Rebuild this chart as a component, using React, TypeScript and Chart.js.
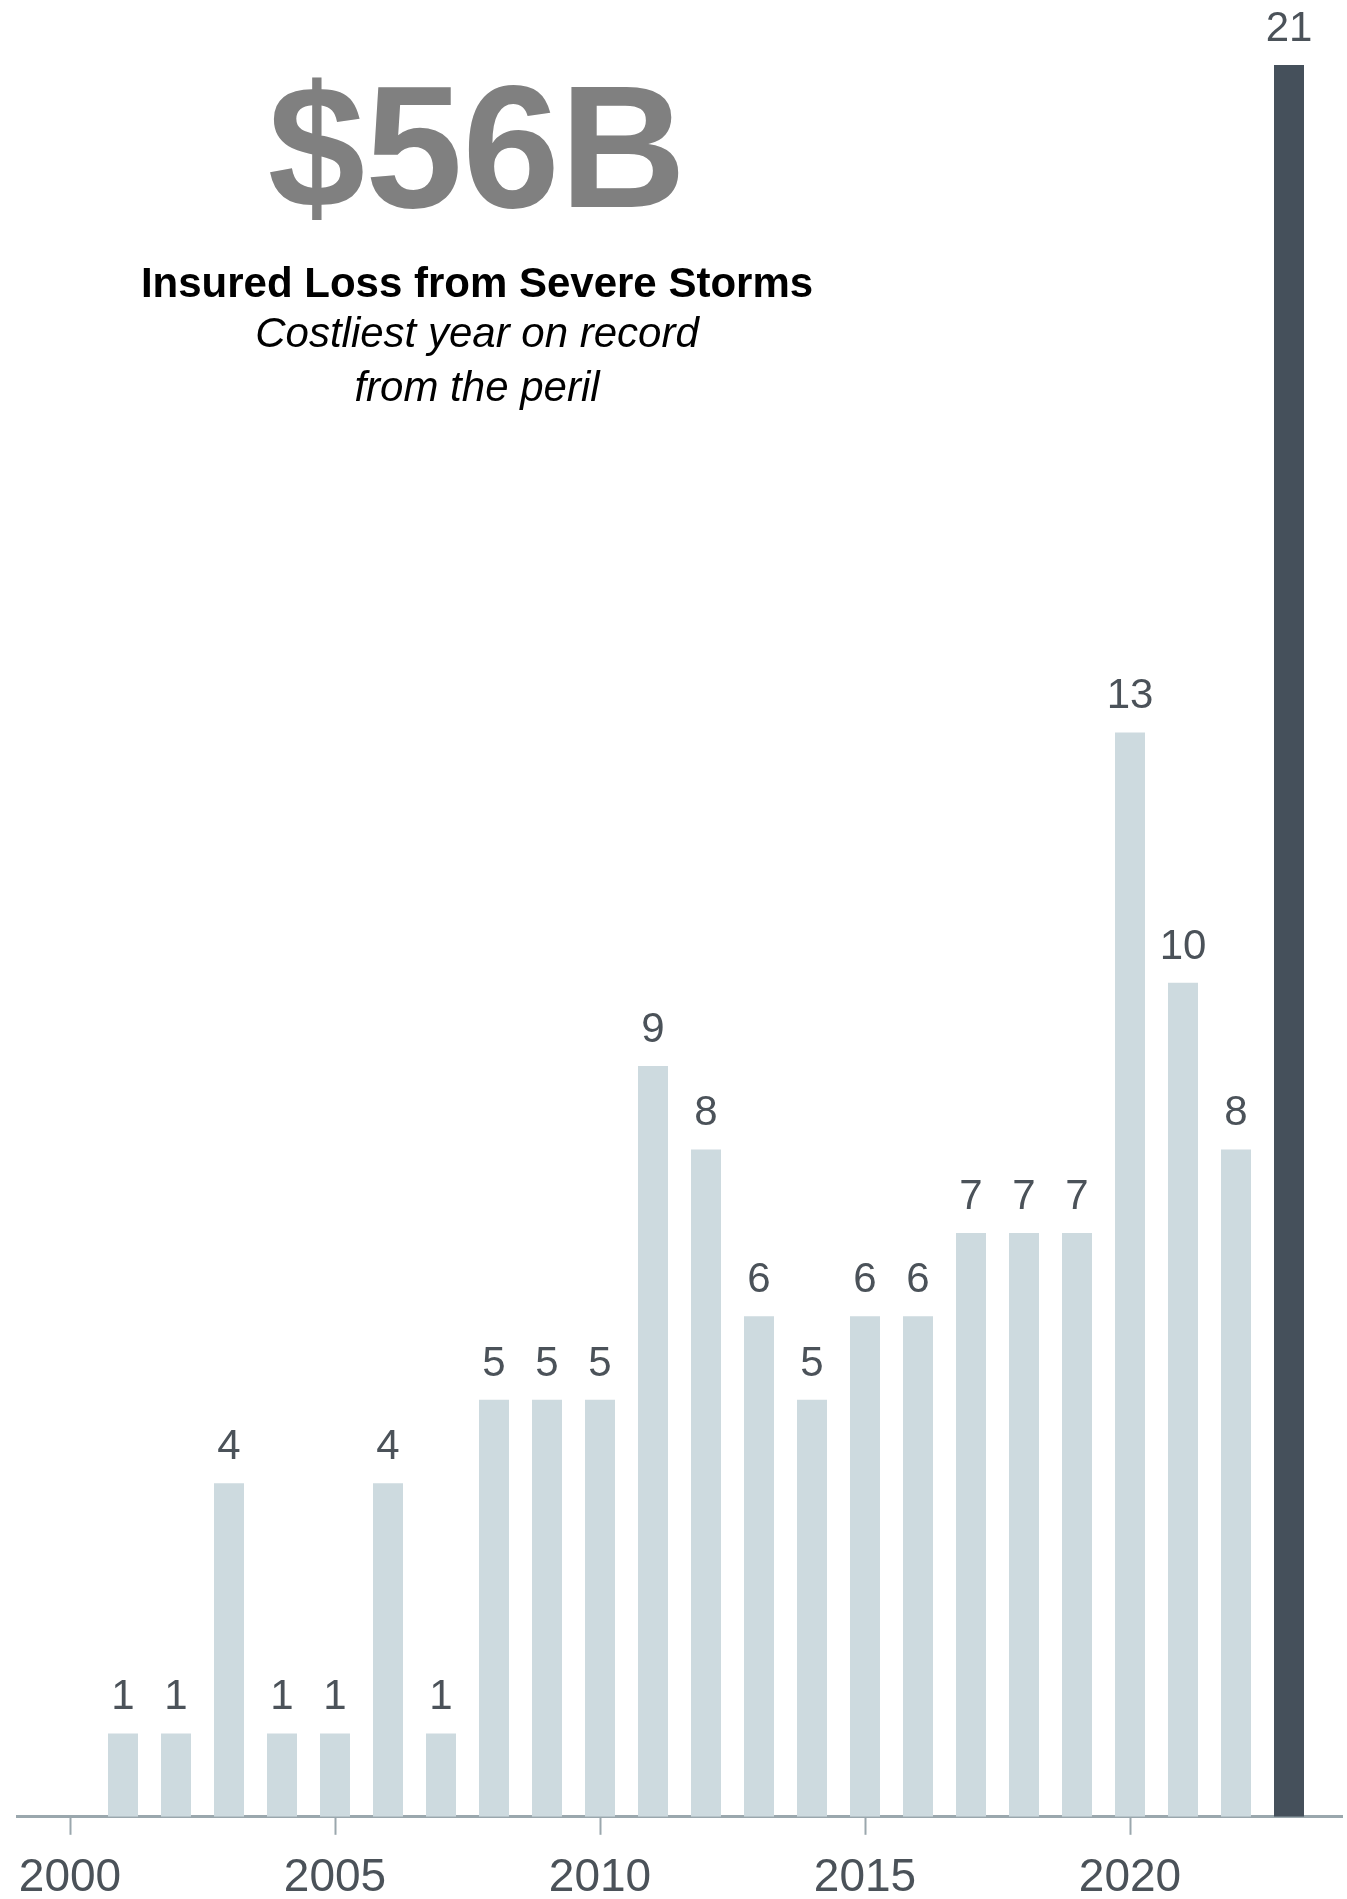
import React, { useEffect, useRef } from "react";
import { Chart, registerables } from "chart.js";

Chart.register(...registerables);

const YEARS = [2001, 2002, 2003, 2004, 2005, 2006, 2007, 2008, 2009, 2010, 2011, 2012, 2013, 2014, 2015, 2016, 2017, 2018, 2019, 2020, 2021, 2022, 2023];
const VALUES = [1, 1, 4, 1, 1, 4, 1, 5, 5, 5, 9, 8, 6, 5, 6, 6, 7, 7, 7, 13, 10, 8, 21];
const HIGHLIGHT_YEAR = 2023;
const TICK_YEARS = [2000, 2005, 2010, 2015, 2020];

const HEADLINE = "$56B";
const TITLE = "Insured Loss from Severe Storms";
const SUBTITLE_LINES = ["Costliest year on record", "from the peril"];

const FONT = "'Liberation Sans', Arial, Helvetica, sans-serif";
const LIGHT = "#cddadf";
const DARK = "#45505b";
const AXIS = "#9aa7ad";
const LABEL = "#4b5259";

const CANVAS_H = 1922;

const valueLabels = {
  id: "valueLabels",
  afterDatasetsDraw(chart: any) {
    const ctx = chart.ctx;
    const meta = chart.getDatasetMeta(0);
    ctx.save();
    ctx.font = `42px ${FONT}`;
    ctx.fillStyle = LABEL;
    ctx.textAlign = "center";
    ctx.textBaseline = "alphabetic";
    meta.data.forEach((el: any, i: number) => {
      ctx.fillText(String(VALUES[i]), el.x, el.y - 24);
    });
    ctx.restore();
  },
};

export default function App() {
  const ref = useRef<HTMLCanvasElement | null>(null);

  useEffect(() => {
    if (!ref.current) return;
    const chart = new Chart(ref.current, {
      type: "bar",
      data: {
        datasets: [
          {
            data: YEARS.map((y, i) => ({ x: y, y: VALUES[i] })),
            backgroundColor: YEARS.map((y) => (y === HIGHLIGHT_YEAR ? DARK : LIGHT)),
            borderWidth: 0,
            categoryPercentage: 0.566,
            barPercentage: 1,
          } as any,
        ],
      },
      plugins: [valueLabels],
      options: {
        animation: false,
        responsive: false,
        maintainAspectRatio: false,
        layout: { padding: { left: 17, right: 5, top: 0, bottom: 0 } },
        plugins: { legend: { display: false }, tooltip: { enabled: false }, title: { display: false } },
        scales: {
          x: {
            type: "linear",
            min: 1999,
            max: 2024,
            offset: false,
            afterBuildTicks: (scale: any) => {
              scale.ticks = TICK_YEARS.map((v) => ({ value: v }));
            },
            grid: {
              display: true,
              offset: false,
              drawOnChartArea: false,
              drawTicks: true,
              tickLength: 18,
              tickWidth: 2,
              tickColor: AXIS,
            },
            border: { display: true, color: AXIS, width: 3 },
            ticks: {
              color: LABEL,
              font: { family: FONT, size: 46 },
              padding: 16,
              maxRotation: 0,
              autoSkip: false,
              callback: (v: any) => String(v),
            },
          } as any,
          y: {
            display: false,
            min: 0,
            max: 21.78,
          },
        },
      },
    });
    return () => chart.destroy();
  }, []);

  return (
    <div style={{ position: "absolute", left: 0, top: 0, width: 1347, height: 1899, overflow: "hidden", background: "#fff" }}>
      <canvas ref={ref} width={1347} height={CANVAS_H} style={{ position: "absolute", left: 0, top: 0, width: 1347, height: CANVAS_H }} />
      <div style={{ position: "absolute", left: 0, width: 954, textAlign: "center", top: 59, fontFamily: FONT, fontWeight: 700, fontSize: 175, lineHeight: 1, color: "#808080" }}>
        {HEADLINE}
      </div>
      <div style={{ position: "absolute", left: 0, width: 954, textAlign: "center", top: 262, fontFamily: FONT, fontWeight: 700, fontSize: 42, lineHeight: 1, color: "#000" }}>
        {TITLE}
      </div>
      {SUBTITLE_LINES.map((line, i) => (
        <div key={i} style={{ position: "absolute", left: 0, width: 954, textAlign: "center", top: 312 + i * 54, fontFamily: FONT, fontStyle: "italic", fontSize: 42, lineHeight: 1, color: "#000" }}>
          {line}
        </div>
      ))}
    </div>
  );
}
